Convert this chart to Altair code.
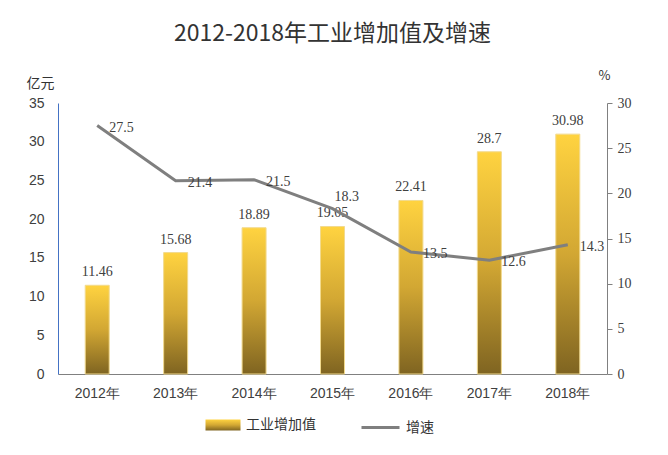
import altair as alt
import pandas as pd

years = ["2012年", "2013年", "2014年", "2015年", "2016年", "2017年", "2018年"]
value = [11.46, 15.68, 18.89, 19.05, 22.41, 28.7, 30.98]
growth = [27.5, 21.4, 21.5, 18.3, 13.5, 12.6, 14.3]

df = pd.DataFrame({"year": years, "value": value, "growth": growth})

stop_colors = ["#FFD340", "#D2A733", "#7F6421"]
grad = alt.Gradient(
    gradient="linear",
    stops=[
        alt.GradientStop(color=stop_colors[0], offset=0),
        alt.GradientStop(color=stop_colors[1], offset=0.5),
        alt.GradientStop(color=stop_colors[2], offset=1),
    ],
    x1=0, x2=0, y1=0, y2=1,
)
grad_expr = (
    "{gradient:'linear',x1:0,y1:0,x2:0,y2:1,stops:["
    f"{{offset:0,color:'{stop_colors[0]}'}},"
    f"{{offset:0.5,color:'{stop_colors[1]}'}},"
    f"{{offset:1,color:'{stop_colors[2]}'}}]}}"
)

TICK_FONT = "Liberation Sans Narrow, Liberation Sans, sans-serif"
NUM_FONT = "Liberation Serif, DejaVu Serif, serif"
CJK = "Noto Sans CJK SC"

legend_common = dict(
    title=None,
    orient="none",
    direction="horizontal",
    labelFont=CJK,
    labelFontSize=14,
    labelColor="#333333",
    labelOffset=5,
)

bar_legend = alt.Legend(
    legendX=147,
    legendY=304,
    symbolType="M-1,-0.32H1V0.32H-1Z",
    symbolFillColor=alt.ExprRef(expr=grad_expr),
    symbolStrokeColor="#F2DA8E",
    symbolStrokeWidth=1,
    symbolSize=1225,
    **legend_common,
)
line_legend = alt.Legend(
    legendX=302,
    legendY=304,
    symbolType="stroke",
    symbolStrokeWidth=3,
    symbolSize=1444,
    **legend_common,
)

x_enc = alt.X(
    "year:N",
    sort=years,
    scale=alt.Scale(paddingInner=0, paddingOuter=0),
    axis=alt.Axis(
        title=None, labelAngle=0, ticks=False, domainColor="#808080",
        labelFont=TICK_FONT, labelFontSize=14, labelColor="#404040",
        labelPadding=12, grid=False,
    ),
)

y_left = alt.Y(
    "value:Q",
    scale=alt.Scale(domain=[0, 35], nice=False),
    axis=alt.Axis(
        values=[0, 5, 10, 15, 20, 25, 30, 35], ticks=False, grid=False,
        labelOverlap=False, labelFlush=False,
        domainColor="#4472C4", labelFont=TICK_FONT, labelFontSize=14,
        labelColor="#404040", labelPadding=14,
        title="亿元", titleAngle=0, titleX=-18, titleY=-20,
        titleAlign="center", titleBaseline="middle", titleFont=CJK,
        titleFontSize=14, titleFontWeight="normal", titleColor="#333333",
    ),
)

y_right = alt.Y(
    "growth:Q",
    scale=alt.Scale(domain=[0, 30], nice=False),
    axis=alt.Axis(
        orient="right", values=[0, 5, 10, 15, 20, 25, 30], ticks=True,
        labelOverlap=False, labelFlush=False,
        tickSize=5, tickColor="#808080", grid=False, domainColor="#808080",
        labelFont=NUM_FONT, labelFontSize=14, labelColor="#404040",
        labelPadding=5,
        title="%", titleAngle=0, titleX=-3, titleY=-28,
        titleAlign="center", titleBaseline="middle", titleFont=CJK,
        titleFontSize=13, titleFontWeight="normal", titleColor="#333333",
    ),
)

left_base = alt.Chart(df).encode(x=x_enc, y=y_left)
right_base = alt.Chart(df).encode(x=x_enc, y=y_right)

bars = left_base.mark_bar(
    size=24, fill=grad, stroke="#F2DA8E", strokeWidth=1
).transform_calculate(s="'工业增加值'").encode(
    opacity=alt.Opacity(
        "s:N", scale=alt.Scale(domain=["工业增加值"], range=[1]), legend=bar_legend
    ),
)
bar_text = left_base.mark_text(
    baseline="bottom", dy=-6, font=NUM_FONT, fontSize=14, color="#404040"
).encode(text=alt.Text("value:Q"))

line = right_base.mark_line(strokeWidth=3).transform_calculate(s="'增速'").encode(
    stroke=alt.Stroke(
        "s:N", scale=alt.Scale(domain=["增速"], range=["#7F7F7F"]), legend=line_legend
    ),
)
# the 2015 label sits above the line in the reference, the others to its right
line_text = right_base.mark_text(
    align="left", baseline="middle",
    dx=alt.ExprRef(expr="datum.year === '2015年' ? 2 : 12"),
    dy=alt.ExprRef(expr="datum.year === '2015年' ? -12 : 2"),
    font=NUM_FONT, fontSize=14, color="#404040",
).encode(text=alt.Text("growth:Q"))

chart = (
    alt.layer(alt.layer(bars, bar_text), alt.layer(line, line_text))
    .resolve_scale(y="independent")
    .properties(
        width=549,
        height=271,
        autosize=alt.AutoSizeParams(type="none"),
        padding={"left": 50, "top": 95, "right": 53, "bottom": 73},
        title=alt.TitleParams(
            text="2012-2018年工业增加值及增速", font=CJK, fontSize=23,
            fontWeight="normal", color="#333333", anchor="middle",
            frame="group", offset=23,
        ),
    )
    .configure(background="white")
    .configure_view(strokeWidth=0, stroke="transparent")
)

chart.save("out.html", embed_options={"renderer": "svg", "actions": False})
